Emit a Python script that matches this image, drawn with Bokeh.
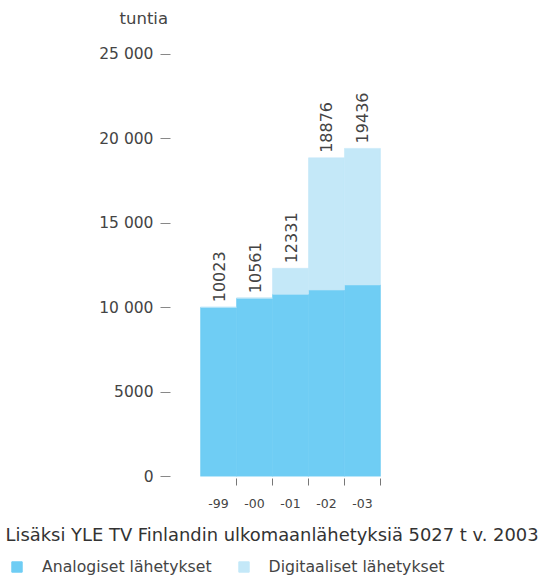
from bokeh.plotting import figure
from bokeh.layouts import column
from bokeh.models import (ColumnDataSource, FixedTicker, Legend, LegendItem,
                          Range1d, Title)
from bokeh.core.properties import value
from bokeh.embed import file_html
from bokeh.resources import INLINE
import math

# ---- data ----
years = ["-99", "-00", "-01", "-02", "-03"]
totals = [10023, 10561, 12331, 18876, 19436]
analog = [10023, 10561, 10800, 11050, 11350]
digital = [t - a for t, a in zip(totals, analog)]
y_ticks = [0, 5000, 10000, 15000, 20000, 25000]
y_tick_labels = ["0", "5000", "10 000", "15 000", "20 000", "25 000"]
unit_label = "tuntia"
caption = "Lisäksi YLE TV Finlandin ulkomaanlähetyksiä 5027 t v. 2003"
series_names = ["Analogiset lähetykset", "Digitaaliset lähetykset"]

FONT = "DejaVu Sans"
TXT = "#444444"
C_ANALOG = "#6fcdf4"
C_DIGITAL = "#c4e8f8"

xs = list(range(len(years)))
src = ColumnDataSource(dict(x=xs, analog=analog, digital=digital,
                            total=totals, lab=[str(t) for t in totals]))

p = figure(width=540, height=556, output_backend="svg", toolbar_location=None,
           x_range=Range1d(-1.28, 4.64), y_range=Range1d(0, 26420),
           min_border_left=172, min_border_right=155, min_border_top=30,
           min_border_bottom=80)
p.outline_line_color = None
p.grid.grid_line_color = None
p.background_fill_color = None
p.border_fill_color = "white"

rs = p.vbar_stack(["analog", "digital"], x="x", width=1.0, source=src,
                  color=[C_ANALOG, C_DIGITAL], line_width=0.6)

p.text(x="x", y="total", text="lab", source=src, angle=math.pi / 2,
       text_align="left", text_baseline="middle", y_offset=-5,
       text_font=value(FONT), text_font_size="16px", text_color=TXT)

# y axis
ya = p.yaxis[0]
ya.ticker = FixedTicker(ticks=y_ticks)
ya.major_label_overrides = {t: l for t, l in zip(y_ticks, y_tick_labels)}
ya.axis_line_color = None
ya.minor_tick_line_color = None
ya.major_tick_in = -2
ya.major_tick_out = 12
ya.major_tick_line_color = "#888888"
ya.major_label_standoff = 7
ya.major_label_text_font = FONT
ya.major_label_text_font_size = "15.5px"
ya.major_label_text_color = TXT

# x axis
xa = p.xaxis[0]
xa.ticker = FixedTicker(ticks=xs, minor_ticks=[x + 0.5 for x in xs])
xa.major_label_overrides = {x: y for x, y in zip(xs, years)}
xa.axis_line_color = None
xa.major_tick_line_color = None
xa.major_tick_out = 0
xa.major_tick_in = 0
xa.minor_tick_line_color = "#777777"
xa.minor_tick_out = 9
xa.minor_tick_in = -2
xa.major_label_standoff = 13
xa.major_label_text_font = FONT
xa.major_label_text_font_size = "12.5px"
xa.major_label_text_color = TXT

p.add_layout(Title(text=unit_label, align="left", offset=-53, standoff=6,
                   text_font=FONT, text_font_size="16.5px", text_color=TXT,
                   text_font_style="normal"), "above")

p.add_layout(Title(text=caption, align="left", offset=-167, standoff=22,
                   text_font=FONT, text_font_size="17.9px", text_color="#333333",
                   text_font_style="normal"), "below")

# legend strip
p2 = figure(width=540, height=24, output_backend="svg", toolbar_location=None,
            x_range=Range1d(0, 1), y_range=Range1d(0, 1),
            min_border=0, min_border_left=0, min_border_right=0,
            min_border_top=0, min_border_bottom=0)
p2.frame_align = False
p2.axis.visible = False
p2.grid.grid_line_color = None
p2.outline_line_color = None
r1 = p2.vbar(x="x", top="analog", width=1, color=C_ANALOG, source=src)
r2 = p2.vbar(x="x", top="digital", width=1, color=C_DIGITAL, source=src)
r1.visible = False
r2.visible = False
legend = Legend(items=[LegendItem(label=series_names[0], renderers=[r1]),
                       LegendItem(label=series_names[1], renderers=[r2])],
                location=(10, 4), orientation="horizontal",
                background_fill_alpha=0, border_line_color=None,
                padding=0, margin=0, spacing=25, label_standoff=19,
                glyph_width=13, glyph_height=13,
                label_text_font=FONT, label_text_font_size="15.7px",
                label_text_color=TXT)
p2.add_layout(legend, "center")

layout = column(p, p2, spacing=0)
open("out.html", "w").write(file_html(layout, INLINE))
